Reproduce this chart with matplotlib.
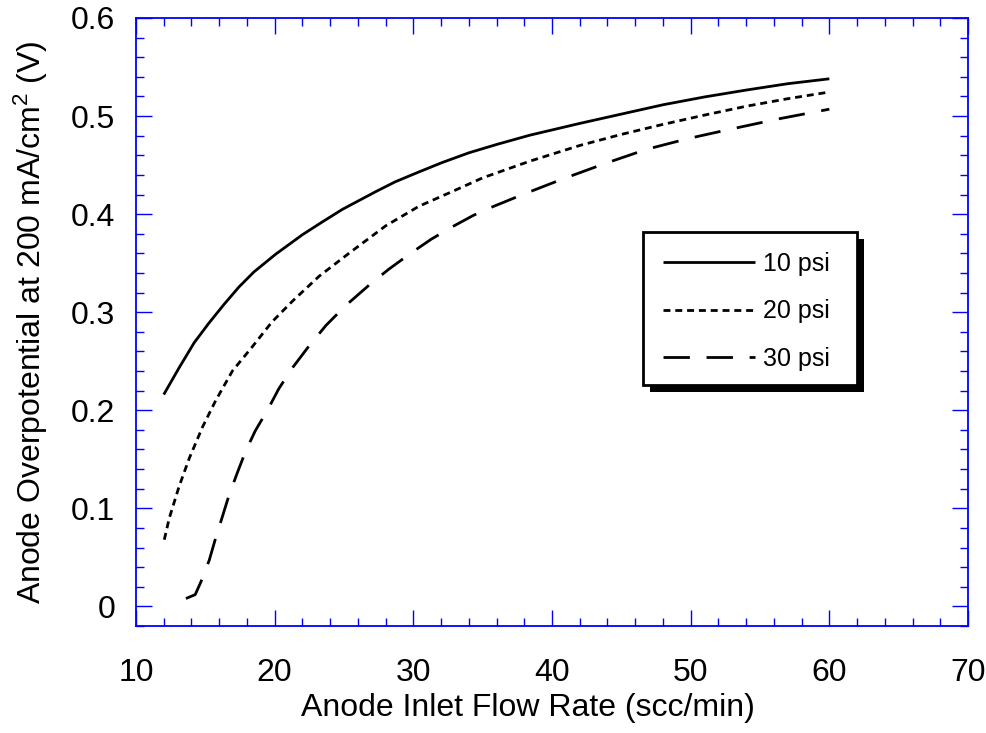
import matplotlib
matplotlib.use("Agg")
import matplotlib.pyplot as plt
from matplotlib.ticker import MultipleLocator
from matplotlib.patches import Rectangle

# ---- data ----
x10 = [12.0, 13.12, 14.2, 15.28, 16.35, 17.43, 18.5, 20.07, 22.0, 23.43, 24.9, 27.3, 28.7,
       30.4, 32.06, 34.0, 36.0, 38.4, 42.0, 45.0, 48.0, 51.0, 54.0, 57.0, 60.0]
y10 = [0.216, 0.2436, 0.269, 0.2893, 0.308, 0.3258, 0.341, 0.3591, 0.379, 0.392, 0.405, 0.423, 0.433,
       0.443, 0.4525, 0.4625, 0.471, 0.4805, 0.4925, 0.502, 0.5115, 0.5195, 0.5265, 0.533, 0.538]

x20 = [12.04, 12.4, 13.1, 13.84, 14.8, 15.75, 16.95, 18.4, 19.8, 21.3, 23.2, 25.35,
       28.0, 30.4, 32.8, 35.0, 38.4, 42.0, 45.0, 48.0, 51.0, 54.0, 57.0, 60.0]
y20 = [0.068, 0.090, 0.122, 0.151, 0.183, 0.210, 0.240, 0.265, 0.290, 0.3115, 0.3366, 0.360,
       0.388, 0.408, 0.423, 0.437, 0.454, 0.470, 0.4813, 0.4915, 0.501, 0.510, 0.5177, 0.5245]

x30 = [13.6, 14.27, 14.68, 15.28, 15.75, 16.24, 16.7, 17.3, 17.9, 18.6, 19.5, 20.3, 21.3,
       22.5, 23.7, 25.1, 26.8, 28.2, 29.8, 31.3, 32.8, 34.3, 35.2, 37.8, 40.8, 43.8, 46.8,
       49.8, 52.8, 56.4, 60.0]
y30 = [0.008, 0.012, 0.025, 0.047, 0.070, 0.092, 0.113, 0.136, 0.158, 0.179, 0.2006, 0.222, 0.2436,
       0.266, 0.2865, 0.3065, 0.3275, 0.3435, 0.360, 0.3745, 0.387, 0.3985, 0.4045, 0.4195, 0.436, 0.4515,
       0.466, 0.477, 0.4864, 0.4973, 0.507]

labels = ["10 psi", "20 psi", "30 psi"]
xlabel = "Anode Inlet Flow Rate (scc/min)"
ylabel = "Anode Overpotential at 200 mA/cm$^2$ (V)"

plt.rcParams["font.family"] = ["Liberation Sans", "DejaVu Sans"]
plt.rcParams["mathtext.fontset"] = "custom"
plt.rcParams["mathtext.rm"] = "Liberation Sans"
plt.rcParams["mathtext.it"] = "Liberation Sans:italic"
plt.rcParams["lines.scale_dashes"] = False

fig = plt.figure(figsize=(9.86, 7.33), dpi=100)
ax = fig.add_axes([136 / 986, (733 - 626) / 733, (968 - 136) / 986, (626 - 18) / 733])

lw = 2.0
l1, = ax.plot(x10, y10, color="black", lw=lw, solid_capstyle="butt", solid_joinstyle="round")
l2, = ax.plot(x20, y20, color="black", lw=lw, dashes=(5, 3.5))
l3, = ax.plot(x30, y30, color="black", lw=lw, dashes=(19, 12))

ax.set_xlim(10, 70)
ax.set_ylim(-0.02, 0.6)
ax.xaxis.set_major_locator(MultipleLocator(10))
ax.xaxis.set_minor_locator(MultipleLocator(2))
ax.yaxis.set_major_locator(MultipleLocator(0.1))
ax.yaxis.set_minor_locator(MultipleLocator(0.02))
ax.yaxis.set_major_formatter(plt.FuncFormatter(lambda v, p: "0" if abs(v) < 1e-9 else f"{v:.1f}"))

blue = "#0000ff"
for s in ax.spines.values():
    s.set_color(blue)
    s.set_linewidth(1.3)
ax.tick_params(which="both", direction="in", top=True, right=True, color=blue, width=1.0,
               labelsize=23, labelcolor="black")
ax.tick_params(which="major", length=11.5)
ax.tick_params(which="minor", length=5.8)
ax.tick_params(axis="x", which="major", pad=23)
ax.tick_params(axis="y", which="major", pad=15)

ax.set_xlabel(xlabel, fontsize=23)
ax.xaxis.set_label_coords(0.471, -0.110)
ax.set_ylabel(ylabel, fontsize=23, labelpad=15)

# legend frame + black drop shadow (drawn as patches in axes coordinates)
fx0, fx1 = (643 - 136) / 832, (857 - 136) / 832
fy0, fy1 = (626 - 385) / 608, (626 - 232) / 608
dx, dy = 7 / 832, 7 / 608
ax.add_patch(Rectangle((fx0 + dx, fy0 - dy), fx1 - fx0, fy1 - fy0, transform=ax.transAxes,
                       facecolor="black", edgecolor="none", zorder=4.5, clip_on=False))
ax.add_patch(Rectangle((fx0, fy0), fx1 - fx0, fy1 - fy0, transform=ax.transAxes,
                       facecolor="white", edgecolor="black", lw=2.0, zorder=4.6, clip_on=False))

leg = ax.legend([l1, l2, l3], labels, loc="upper left",
                bbox_to_anchor=((663 - 136) / 832, (626 - 251.5) / 608),
                borderaxespad=0, borderpad=0, fontsize=18, frameon=False,
                handlelength=3.68, handletextpad=0.32, labelspacing=0.95)
leg.set_zorder(5)

fig.savefig("out.png", dpi=100)
